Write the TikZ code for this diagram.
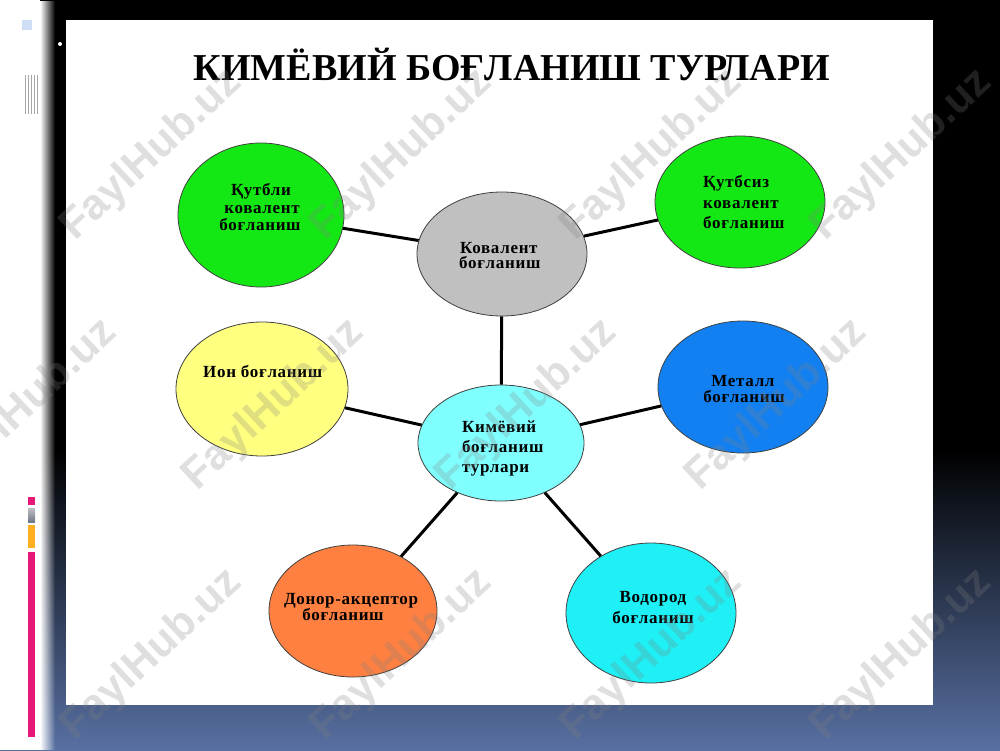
\documentclass[tikz,border=0pt]{standalone}
\usepackage{fontspec}
\setmainfont{Liberation Serif}
\newfontfamily\lblfont{Liberation Serif}[LetterSpace=4]
\newfontfamily\wmfont{Liberation Sans}
\usetikzlibrary{shapes.geometric,fadings}
\definecolor{bgblue}{RGB}{88,112,162}
\definecolor{cgreen}{RGB}{20,232,20}
\definecolor{cgray}{RGB}{192,192,192}
\definecolor{cyellow}{RGB}{255,255,128}
\definecolor{ccenter}{RGB}{128,255,255}
\definecolor{cblue}{RGB}{18,128,240}
\definecolor{corange}{RGB}{255,128,64}
\definecolor{ccyan}{RGB}{30,240,245}
\definecolor{cpink}{RGB}{230,25,120}
\definecolor{corangebar}{RGB}{255,176,32}
\definecolor{cbarg}{RGB}{110,120,135}
\definecolor{csq}{RGB}{205,222,245}
\pgfdeclareverticalshading{bgshade}{100bp}{color(0bp)=(bgblue); color(25bp)=(bgblue); color(45bp)=(black); color(100bp)=(black)}
\tikzset{
  ell/.style={ellipse, draw=black!75, line width=0.8pt, inner sep=0pt},
  conn/.style={draw=black, line width=3pt},
  lbl/.style={font=\lblfont\bfseries\fontsize{17}{17}\selectfont, inner sep=0pt, text=black},
  wm/.style={font=\wmfont\bfseries\fontsize{43}{43}\selectfont, rotate=43, text=gray, opacity=0.25, inner sep=0pt},
}
\begin{document}
\begin{tikzpicture}[x=1pt,y=-1pt]
\useasboundingbox (0,0) rectangle (1000,750);
% background
\shade[shading=bgshade] (0,0) rectangle (1000,750);
\fill[white] (0,0) rectangle (40,750);
\fill[white, path fading=east] (40,0) rectangle (55,750);
\fill[csq] (22,20) rectangle (32,30);
\foreach \xx in {25,28,31,34,37} \draw[gray!70, line width=0.8pt] (\xx,75) -- (\xx,114);
\fill[cpink] (28,497) rectangle (35,505);
\shade[top color=gray!50, bottom color=cbarg] (28,508) rectangle (35,522);
\fill[corangebar] (28,525) rectangle (35,548);
\fill[cpink] (28,552) rectangle (35,737);
\fill[white] (60,44) circle (2);
% panel
\fill[white] (66,20) rectangle (933,705);
% title
\node[font=\bfseries\fontsize{38}{38}\selectfont, anchor=base, inner sep=0pt] (title) at (512,80) {КИМЁВИЙ БОҒЛАНИШ ТУРЛАРИ};
% ellipses
\node[ell, fill=cgreen, minimum width=166pt, minimum height=144pt] (kutbli) at (261,215) {};
\node[ell, fill=cgreen, minimum width=170pt, minimum height=132pt] (kutbsiz) at (740,202) {};
\node[ell, fill=cgray, minimum width=170pt, minimum height=124pt] (koval) at (502,254) {};
\node[ell, fill=cyellow, minimum width=172pt, minimum height=134pt] (ion) at (262,389) {};
\node[ell, fill=ccenter, minimum width=166pt, minimum height=116pt] (center) at (501,443) {};
\node[ell, fill=cblue, minimum width=170pt, minimum height=132pt] (metall) at (743,387) {};
\node[ell, fill=corange, minimum width=168pt, minimum height=132pt] (donor) at (353,611) {};
\node[ell, fill=ccyan, minimum width=170pt, minimum height=140pt] (vodorod) at (651,613) {};
% connectors
\path[conn] (kutbli) -- (koval);
\path[conn] (kutbsiz) -- (koval);
\path[conn] (koval) -- (center);
\path[conn] (ion) -- (center);
\path[conn] (metall) -- (center);
\path[conn] (donor) -- (center);
\path[conn] (vodorod) -- (center);
% labels
\node[lbl, anchor=base] (t1a) at (261,195) {Қутбли};
\node[lbl, anchor=base] (t1b) at (262,213) {ковалент};
\node[lbl, anchor=base] (t1c) at (260,230) {боғланиш};
\node[lbl, anchor=base west] (t2a) at (703,187) {Қутбсиз};
\node[lbl, anchor=base west] (t2b) at (703,208) {ковалент};
\node[lbl, anchor=base west] (t2c) at (703,228) {боғланиш};
\node[lbl, anchor=base west] (t3a) at (460,253) {Ковалент};
\node[lbl, anchor=base west] (t3b) at (459,268) {боғланиш};
\node[lbl, anchor=base west] (t4a) at (203,377) {Ион боғланиш};
\node[lbl, anchor=base west] (t5a) at (462,432) {Кимёвий};
\node[lbl, anchor=base west] (t5b) at (462,452) {боғланиш};
\node[lbl, anchor=base west] (t5c) at (462,472) {турлари};
\node[lbl, anchor=base] (t6a) at (743,386) {Металл};
\node[lbl, anchor=base] (t6b) at (744,402) {боғланиш};
\node[lbl, anchor=base] (t7a) at (351,604) {Донор-акцептор};
\node[lbl, anchor=base] (t7b) at (343,620) {боғланиш};
\node[lbl, anchor=base] (t8a) at (653,602) {Водород};
\node[lbl, anchor=base] (t8b) at (653,623) {боғланиш};
% watermarks
\foreach \wx/\wy [count=\i] in {152/155,402/155,652/155,902/155,27/405,274/405,527/405,777/405,152/655,402/655,652/655,902/655}
  \node[wm] (wm\i) at (\wx,\wy) {FaylHub.uz};
\end{tikzpicture}
\end{document}
